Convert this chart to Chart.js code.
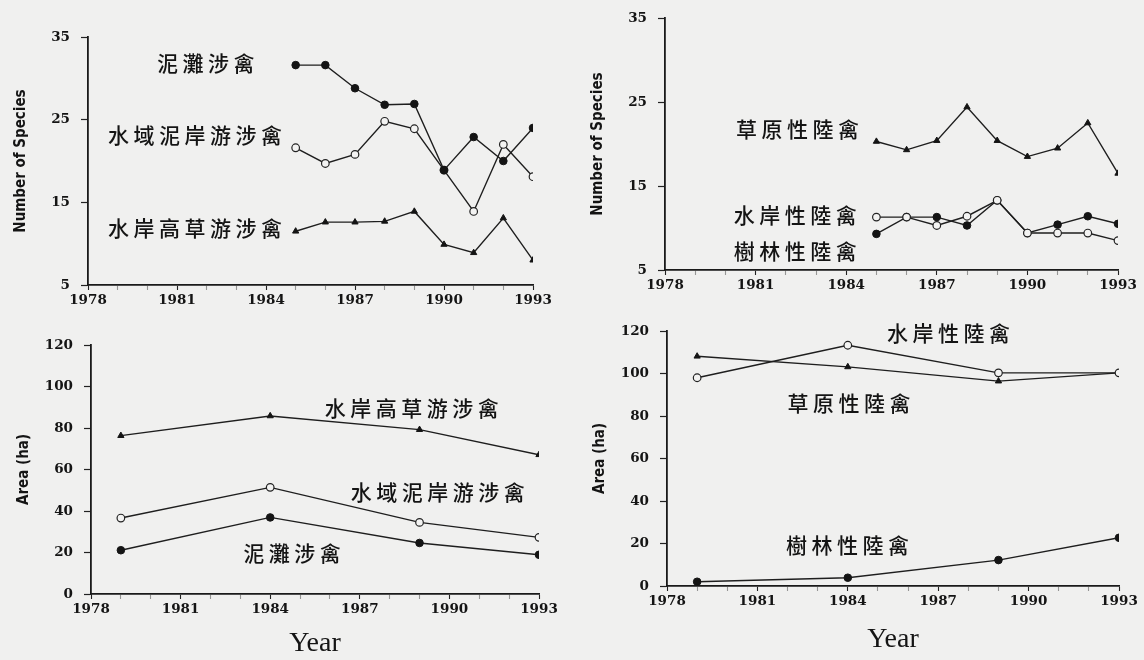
<!DOCTYPE html>
<html>
<head>
<meta charset="utf-8">
<script src="https://cdn.jsdelivr.net/npm/chart.js@4.4.1/dist/chart.umd.min.js"></script>
<style>
  html, body { margin: 0; padding: 0; width: 1144px; height: 660px; overflow: hidden; background: #f0f0ef; }
  canvas { position: absolute; }
</style>
</head>
<body>
<canvas id="shoreSpecies"></canvas>
<canvas id="landSpecies"></canvas>
<canvas id="shoreArea"></canvas>
<canvas id="landArea"></canvas>
<script>
// ---- data ----
const shorebirdGroups = ['泥灘涉禽', '水域泥岸游涉禽', '水岸高草游涉禽'];
const landbirdGroups = ['草原性陸禽', '水岸性陸禽', '樹林性陸禽'];

const surveyYears = [1985, 1986, 1987, 1988, 1989, 1990, 1991, 1992, 1993];
const mudflatSpecies   = [31.6, 31.6, 28.8, 26.8, 26.9, 18.9, 22.9, 20.0, 24.0];
const mudbankSpecies   = [21.6, 19.7, 20.8, 24.8, 23.9, 18.9, 13.9, 22.0, 18.1];
const tallGrassSpecies = [11.5, 12.6, 12.6, 12.7, 13.9, 9.9, 8.9, 13.1, 8.0];

const grasslandSpecies = [20.3, 19.3, 20.4, 24.4, 20.4, 18.5, 19.5, 22.5, 16.5];
const watersideSpecies = [11.3, 11.3, 10.3, 11.4, 13.3, 9.4, 9.4, 9.4, 8.5];
const woodlandSpecies  = [9.3, 11.3, 11.3, 10.3, 13.3, 9.4, 10.4, 11.4, 10.5];

const mapYears = [1979, 1984, 1989, 1993];
const tallGrassArea = [76.3, 85.8, 79.2, 67.1];
const mudbankArea   = [36.6, 51.4, 34.5, 27.3];
const mudflatArea   = [21.1, 36.9, 24.6, 18.9];

const watersideArea = [98.0, 113.3, 100.3, 100.3];
const grasslandArea = [108.1, 103.1, 96.4, 100.3];
const woodlandArea  = [2.0, 3.9, 12.2, 22.7];

const yearTicks = [1978, 1981, 1984, 1987, 1990, 1993];
const speciesTicks = [5, 15, 25, 35];
const areaTicks = [0, 20, 40, 60, 80, 100, 120];

// ---- styling ----
const INK = '#141414';
const tickFont = { family: "'DejaVu Serif', serif", size: 13.5, weight: 'bold' };
const yTitleFont = { family: "'DejaVu Sans Condensed', 'DejaVu Sans', sans-serif", size: 15, weight: 'bold' };
const xTitleFont = { family: "'Liberation Serif', serif", size: 28 };

const markerStyles = {
  filled:   { pointStyle: 'circle', pointRadius: 3.8, pointBackgroundColor: INK, pointBorderColor: INK, pointBorderWidth: 1 },
  open:     { pointStyle: 'circle', pointRadius: 3.8, pointBackgroundColor: '#f3f3f2', pointBorderColor: '#222', pointBorderWidth: 1.2 },
  triangle: { pointStyle: 'triangle', pointRadius: 3.6, pointBackgroundColor: INK, pointBorderColor: INK, pointBorderWidth: 1 }
};

function series(label, years, values, marker) {
  return Object.assign({
    label,
    data: years.map((x, i) => ({ x, y: values[i] })),
    borderColor: '#1e1e1e',
    borderWidth: 1.4,
    tension: 0,
    fill: false
  }, markerStyles[marker]);
}

// group names written beside the lines, anchored in data units
const panelLabelsPlugin = {
  id: 'panelLabels',
  afterDatasetsDraw(chart, args, opts) {
    const { ctx } = chart;
    const xs = chart.scales.x, ys = chart.scales.y;
    ctx.save();
    ctx.fillStyle = INK;
    ctx.font = `500 ${opts.size}px 'Noto Sans CJK TC', 'Noto Sans CJK SC', sans-serif`;
    ctx.textBaseline = 'middle';
    ctx.textAlign = 'left';
    (opts.items || []).forEach(it => {
      let x = xs.getPixelForValue(it.year);
      const y = ys.getPixelForValue(it.value);
      for (const ch of it.text) {
        ctx.fillText(ch, x, y);
        x += ctx.measureText(ch).width + opts.spacing;
      }
    });
    ctx.restore();
  }
};

function xScale(boxHeight, title) {
  return {
    type: 'linear', min: yearTicks[0], max: yearTicks[yearTicks.length - 1],
    ticks: {
      stepSize: 1, autoSkip: false, maxRotation: 0, color: INK, font: tickFont, padding: 2,
      callback: v => yearTicks.includes(v) ? String(v) : ''
    },
    grid: {
      drawOnChartArea: false, tickLength: 5, tickWidth: 1.1,
      tickColor: c => (c.tick && yearTicks.includes(c.tick.value)) ? '#222' : 'rgba(40,40,40,0.45)'
    },
    border: { display: true, color: '#1a1a1a', width: 1.8 },
    title: title
      ? { display: true, text: title, color: INK, font: xTitleFont, padding: { top: 0, bottom: 0 } }
      : { display: false },
    afterFit(s) { s.height = boxHeight; }
  };
}

function yScale(tickValues, title) {
  const step = tickValues[1] - tickValues[0];
  return {
    type: 'linear', min: tickValues[0], max: tickValues[tickValues.length - 1],
    ticks: { stepSize: step, color: INK, font: tickFont, padding: 11 },
    grid: { drawOnChartArea: false, tickLength: 7, tickColor: '#222', tickWidth: 1.2 },
    border: { display: true, color: '#1a1a1a', width: 1.8 },
    title: { display: true, text: title, color: INK, font: yTitleFont, padding: { top: 2, bottom: 0 } },
    afterFit(s) { s.width = 78; }
  };
}

// plot rectangle of each panel (page pixels) and the x-axis band under it;
// the top margin is wide enough that the y tick labels never push the plot down
const Y_BAND = 78, PAD_TOP = 22;
function makePanel(id, plot, xBand, datasets, yTicks, yTitle, xTitle, labels) {
  const padRight = 24;
  const canvas = document.getElementById(id);
  const left = plot.left - Y_BAND;
  const top = plot.top - PAD_TOP;
  canvas.width = plot.right + padRight - left;
  canvas.height = plot.bottom + xBand - top;
  canvas.style.left = left + 'px';
  canvas.style.top = top + 'px';
  return new Chart(canvas, {
    type: 'line',
    data: { datasets },
    options: {
      responsive: false, animation: false, devicePixelRatio: 1,
      layout: { padding: { left: 0, right: padRight, top: PAD_TOP, bottom: 0 } },
      scales: { x: xScale(xBand, xTitle), y: yScale(yTicks, yTitle) },
      plugins: {
        legend: { display: false }, tooltip: { enabled: false },
        panelLabels: { size: 21, spacing: 4.5, items: labels }
      }
    },
    plugins: [panelLabelsPlugin]
  });
}

makePanel('shoreSpecies', { left: 88, right: 533, top: 37, bottom: 285 }, 25, [
  series(shorebirdGroups[0], surveyYears, mudflatSpecies, 'filled'),
  series(shorebirdGroups[1], surveyYears, mudbankSpecies, 'open'),
  series(shorebirdGroups[2], surveyYears, tallGrassSpecies, 'triangle')
], speciesTicks, 'Number of Species', null, [
  { text: shorebirdGroups[0], year: 1980.33, value: 31.9 },
  { text: shorebirdGroups[1], year: 1978.67, value: 23.1 },
  { text: shorebirdGroups[2], year: 1978.67, value: 11.9 }
]);

makePanel('landSpecies', { left: 665, right: 1118, top: 18, bottom: 270 }, 25, [
  series(landbirdGroups[0], surveyYears, grasslandSpecies, 'triangle'),
  series(landbirdGroups[1], surveyYears, watersideSpecies, 'open'),
  series(landbirdGroups[2], surveyYears, woodlandSpecies, 'filled')
], speciesTicks, 'Number of Species', null, [
  { text: landbirdGroups[0], year: 1980.35, value: 21.8 },
  { text: landbirdGroups[1], year: 1980.28, value: 11.5 },
  { text: landbirdGroups[2], year: 1980.28, value: 7.25 }
]);

makePanel('shoreArea', { left: 91, right: 539, top: 345, bottom: 594 }, 66, [
  series(shorebirdGroups[2], mapYears, tallGrassArea, 'triangle'),
  series(shorebirdGroups[1], mapYears, mudbankArea, 'open'),
  series(shorebirdGroups[0], mapYears, mudflatArea, 'filled')
], areaTicks, 'Area (ha)', 'Year', [
  { text: shorebirdGroups[2], year: 1985.83, value: 89.5 },
  { text: shorebirdGroups[1], year: 1986.7, value: 49.3 },
  { text: shorebirdGroups[0], year: 1983.1, value: 19.8 }
]);

makePanel('landArea', { left: 667, right: 1119, top: 331, bottom: 586 }, 70, [
  series(landbirdGroups[1], mapYears, watersideArea, 'open'),
  series(landbirdGroups[0], mapYears, grasslandArea, 'triangle'),
  series(landbirdGroups[2], mapYears, woodlandArea, 'filled')
], areaTicks, 'Area (ha)', 'Year', [
  { text: landbirdGroups[1], year: 1985.3, value: 119 },
  { text: landbirdGroups[0], year: 1982.0, value: 86.1 },
  { text: landbirdGroups[2], year: 1981.95, value: 19.3 }
]);
</script>
</body>
</html>
